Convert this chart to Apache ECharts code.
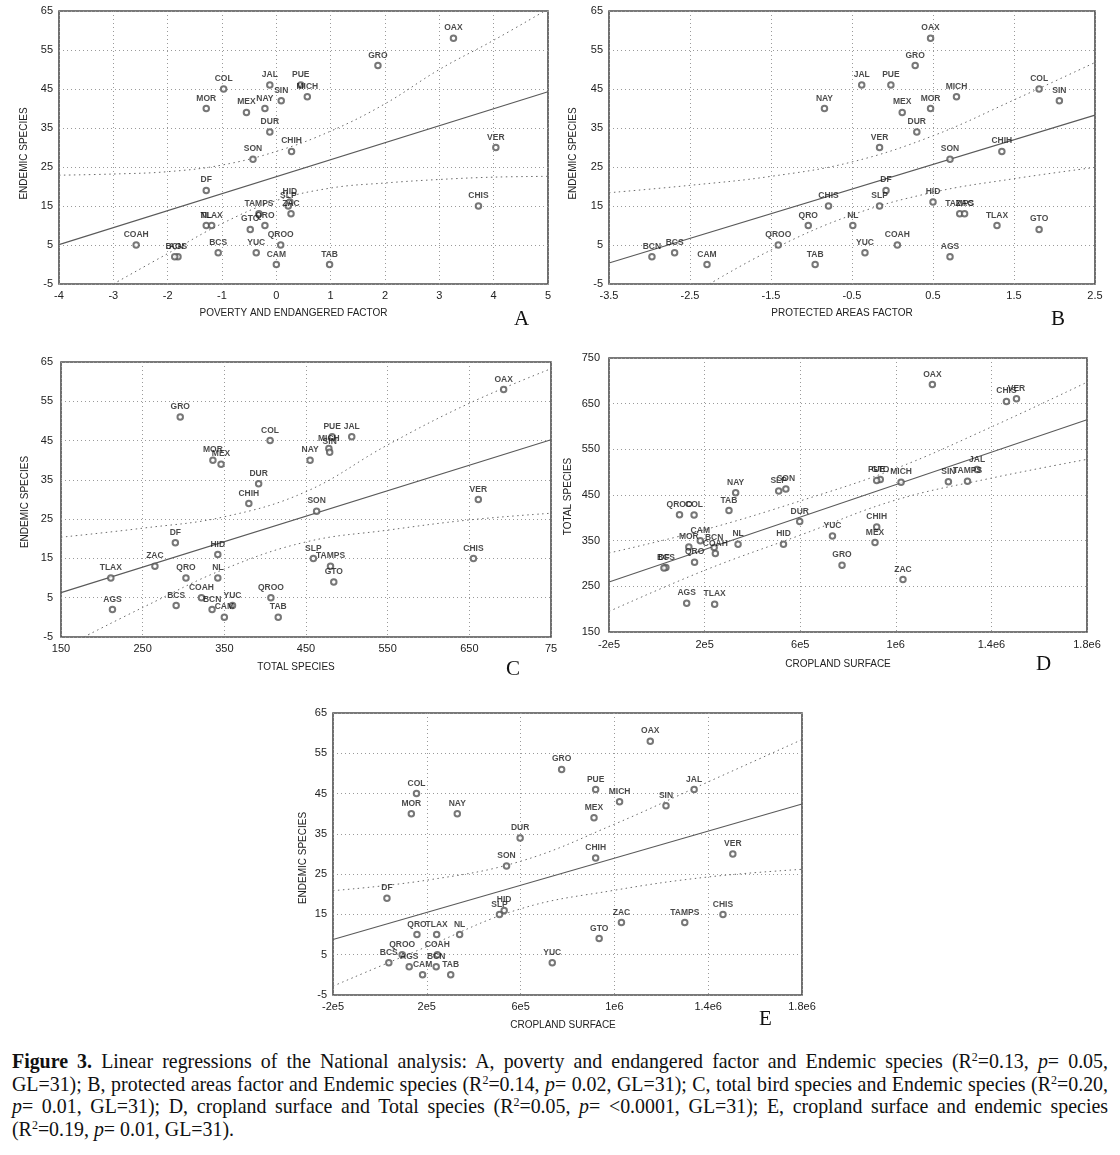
<!DOCTYPE html>
<html><head><meta charset="utf-8">
<script src="https://cdn.jsdelivr.net/npm/echarts@6/dist/echarts.min.js"></script>
<style>
html,body{margin:0;padding:0;background:#fff;}
#chart{position:absolute;left:0;top:0;width:1120px;height:1045px;}
#cap{position:absolute;left:12px;top:1050px;width:1096px;font-family:'Liberation Serif','Times New Roman',serif;font-size:19.9px;line-height:22.5px;color:#111;}
#cap .j{text-align:justify;text-align-last:justify;white-space:nowrap;}
#cap sup{font-size:12px;vertical-align:7px;line-height:0;}
</style></head>
<body>
<div id="chart"></div>
<div id="cap">
<div class="j"><b>Figure 3.</b> Linear regressions of the National analysis: A, poverty and endangered factor and Endemic species (R<sup>2</sup>=0.13, <i>p</i>= 0.05,</div>
<div class="j">GL=31); B, protected areas factor and Endemic species (R<sup>2</sup>=0.14, <i>p</i>= 0.02, GL=31); C, total bird species and Endemic species (R<sup>2</sup>=0.20,</div>
<div class="j"><i>p</i>= 0.01, GL=31); D, cropland surface and Total species (R<sup>2</sup>=0.05, <i>p</i>= &lt;0.0001, GL=31); E, cropland surface and endemic species</div>
<div>(R<sup>2</sup>=0.19, <i>p</i>= 0.01, GL=31).</div>
</div>
<script>
// ---- data ----
const states = ['AGS','BCN','BCS','CAM','COAH','COL','CHIS','CHIH','DF','DUR','GTO','GRO','HID','JAL','MEX','MICH','MOR','NAY','NL','OAX','PUE','QRO','QROO','SLP','SIN','SON','TAB','TAMPS','TLAX','VER','YUC','ZAC'];
const endemicSpecies = [2,2,3,0,5,45,15,29,19,34,9,51,16,46,39,43,40,40,10,58,46,10,5,15,42,27,0,13,10,30,3,13];
const totalSpecies = [213,335,291,350,322,406,655,380,290,392,484,296,342,506,346,478,336,455,342,692,482,303,407,459,479,463,416,480,211,661,360,265];
const croplandSurface = [1.25e5,2.4e5,3.8e4,1.82e5,2.45e5,1.56e5,1.463e6,9.2e5,3.0e4,5.98e5,9.35e5,7.75e5,5.3e5,1.34e6,9.13e5,1.022e6,1.34e5,3.3e5,3.4e5,1.153e6,9.2e5,1.58e5,9.5e4,5.1e5,1.22e6,5.4e5,3.02e5,1.3e6,2.42e5,1.505e6,7.35e5,1.03e6];
const povertyFactor = [-1.81,-1.87,-1.07,0.0,-2.58,-0.97,3.72,0.28,-1.29,-0.12,-0.48,1.87,0.25,-0.12,-0.55,0.57,-1.29,-0.21,-1.29,3.26,0.45,-0.21,0.08,0.22,0.09,-0.43,0.98,-0.32,-1.19,4.04,-0.37,0.27];
const protectedFactor = [0.71,-2.97,-2.69,-2.29,0.06,1.81,-0.79,1.35,-0.08,0.30,1.81,0.28,0.50,-0.38,0.12,0.79,0.47,-0.84,-0.49,0.47,-0.02,-1.04,-1.41,-0.16,2.06,0.71,-0.955,0.83,1.29,-0.16,-0.34,0.89];

// regression lines and confidence bands
const fitA = [[-4,5.1],[5,44.3]];
const upperA = [[-4,22.9],[-3,23.2],[-2,23.8],[-1,25.5],[0,29],[1,34.2],[2,41.2],[3,50],[4,57.5],[5,65.5]];
const lowerA = [[-3,-5],[-2,2.8],[-1,10.5],[0,16.4],[1,19.6],[2,20.9],[3,21.8],[4,22.4],[5,22.6]];
const fitB = [[-3.5,0.4],[2.5,38.3]];
const upperB = [[-3.5,18.4],[-2.5,20.3],[-1.5,22.6],[-0.5,26.3],[0.5,33.0],[1.5,42.2],[2.5,51.8]];
const lowerB = [[-2.26,-5],[-1.5,3.7],[-0.5,12.7],[0.5,18.5],[1.5,22.0],[2.5,24.9]];
const fitC = [[150,6.3],[750,45.2]];
const upperC = [[150,20.4],[250,22.7],[350,25.6],[450,32],[550,43.9],[650,54.5],[750,63.3]];
const lowerC = [[178,-5],[250,2.5],[350,12.3],[450,19.2],[550,22.2],[650,24.8],[750,26.5]];
const fitD = [[-2e5,259.5],[1.8e6,615]];
const upperD = [[-2e5,323],[2e5,374],[6e5,437],[1e6,508],[1.4e6,599],[1.8e6,697]];
const lowerD = [[-2e5,195],[2e5,285],[6e5,362],[1e6,439],[1.4e6,487],[1.8e6,528]];
const fitE = [[-2e5,8.8],[1.8e6,42.4]];
const upperE = [[-2e5,20.9],[2e5,23.5],[6e5,28.2],[1e6,37.4],[1.4e6,47.9],[1.8e6,58.4]];
const lowerE = [[-2e5,-2.8],[2e5,7],[6e5,16.4],[1e6,21],[1.4e6,24.3],[1.8e6,26.2]];

// tick labels
const croplandTicks = [-2e5,2e5,6e5,1e6,1.4e6,1.8e6];
const croplandTickLabels = ['-2e5','2e5','6e5','1e6','1.4e6','1.8e6'];
const totalTicks = [150,250,350,450,550,650,750];
const totalTickLabels = ['150','250','350','450','550','650','75'];

// ---- chart ----
const FONT = '"Liberation Sans", Arial, sans-serif';
const chart = echarts.init(document.getElementById('chart'), null, {renderer:'canvas'});

function lookup(ticks, labels){
  return v => { let bi=0, bd=Infinity; ticks.forEach((t,i)=>{const d=Math.abs(t-v); if(d<bd){bd=d;bi=i;}}); return bd < 1e-6*Math.max(1,Math.abs(v)) + 1e-9 ? labels[bi] : ''; };
}
const grids = [
  {left:59, top:11, width:489, height:273},
  {left:609, top:11, width:486, height:273},
  {left:61, top:362, width:490, height:275},
  {left:609, top:358, width:478, height:274},
  {left:333, top:713, width:469, height:282}
].map(g => Object.assign(g, {show:true, borderColor:'#4d4d4d', borderWidth:1.6, backgroundColor:'transparent', containLabel:false}));

const splitLine = {show:true, lineStyle:{color:'#9a9a9a', width:1, type:[1,3]}};
function xAx(gi, min, max, interval, name, nameGap, pad, margin, fmt){
  return {type:'value', gridIndex:gi, min, max, interval, name, nameLocation:'middle', nameGap,
    nameTextStyle:{fontFamily:FONT, fontSize:10, color:'#222', padding:pad},
    axisLine:{show:false}, axisTick:{show:false}, splitLine,
    axisLabel:{fontFamily:FONT, fontSize:11, color:'#222', margin, formatter:fmt, showMinLabel:true, showMaxLabel:true}};
}
function yAx(gi, min, max, interval, name, nameGap, pad, margin){
  return {type:'value', gridIndex:gi, min, max, interval, name, nameLocation:'middle', nameGap, nameRotate:90,
    nameTextStyle:{fontFamily:FONT, fontSize:10, color:'#222', padding:pad},
    axisLine:{show:false}, axisTick:{show:false}, splitLine,
    axisLabel:{fontFamily:FONT, fontSize:11, color:'#222', margin, showMinLabel:true, showMaxLabel:true}};
}
const xAxes = [
  xAx(0,-4,5,1,'POVERTY AND ENDANGERED FACTOR',24,[0,20,0,0],6, v=>String(v)),
  xAx(1,-3.5,2.5,1,'PROTECTED AREAS FACTOR',24,[0,20,0,0],6, v=>String(Math.round(v*10)/10)),
  xAx(2,150,750,100,'TOTAL SPECIES',25,[0,20,0,0],6, lookup(totalTicks,totalTickLabels)),
  xAx(3,-2e5,1.8e6,4e5,'CROPLAND SURFACE',27,[0,20,0,0],7, lookup(croplandTicks,croplandTickLabels)),
  xAx(4,-2e5,1.8e6,4e5,'CROPLAND SURFACE',25,[0,9,0,0],6, lookup(croplandTicks,croplandTickLabels))
];
const yAxes = [
  yAx(0,-5,65,10,'ENDEMIC SPECIES',30,[0,12,0,0],6),
  yAx(1,-5,65,10,'ENDEMIC SPECIES',31,[0,12,0,0],6),
  yAx(2,-5,65,10,'ENDEMIC SPECIES',31,[0,5,0,0],8),
  yAx(3,150,750,100,'TOTAL SPECIES',36,[0,3,0,0],9),
  yAx(4,-5,65,10,'ENDEMIC SPECIES',25,[0,8,0,0],6)
];

function scatter(gi, xs, ys){
  return {type:'scatter', xAxisIndex:gi, yAxisIndex:gi, z:5,
    data: states.map((s,k)=>[xs[k], ys[k], s]),
    symbol:'emptyCircle', symbolSize:5.5,
    itemStyle:{color:'#555', borderWidth:0.8},
    label:{show:true, position:'top', distance:2, formatter:p=>p.value[2],
      fontFamily:FONT, fontSize:8.5, fontWeight:'bold', color:'#1a1a1a'},
    emphasis:{disabled:true}, silent:true};
}
function line(gi, data, dotted){
  return {type:'line', xAxisIndex:gi, yAxisIndex:gi, data, symbol:'none', smooth: dotted ? 0.4 : false, clip:true, z:3,
    lineStyle: dotted ? {color:'#6a6a6a', width:1, type:[1.5,3.5]} : {color:'#5a5a5a', width:1.1},
    silent:true};
}
const series = [
  line(0,fitA,false), line(0,upperA,true), line(0,lowerA,true), scatter(0,povertyFactor,endemicSpecies),
  line(1,fitB,false), line(1,upperB,true), line(1,lowerB,true), scatter(1,protectedFactor,endemicSpecies),
  line(2,fitC,false), line(2,upperC,true), line(2,lowerC,true), scatter(2,totalSpecies,endemicSpecies),
  line(3,fitD,false), line(3,upperD,true), line(3,lowerD,true), scatter(3,croplandSurface,totalSpecies),
  line(4,fitE,false), line(4,upperE,true), line(4,lowerE,true), scatter(4,croplandSurface,endemicSpecies)
];
function letter(t, x, y){
  return {type:'text', left:x, top:y, style:{text:t, font:'21px "Liberation Serif", serif', fill:'#111'}};
}
chart.setOption({
  animation:false,
  textStyle:{fontFamily:FONT},
  grid:grids, xAxis:xAxes, yAxis:yAxes, series,
  graphic:[letter('A',514,309), letter('B',1051,309), letter('C',506,659), letter('D',1036,654), letter('E',759,1009)]
});
</script>
</body></html>
